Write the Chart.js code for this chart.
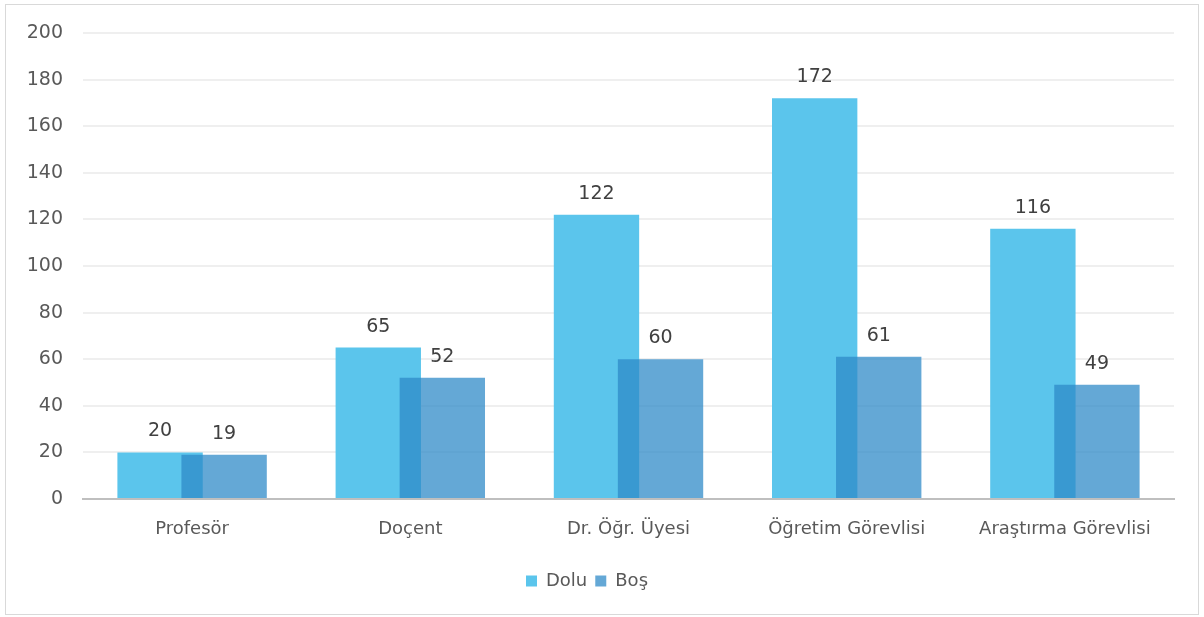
<!DOCTYPE html>
<html>
<head>
<meta charset="utf-8">
<script src="https://cdn.jsdelivr.net/npm/chart.js@4/dist/chart.umd.min.js"></script>
<style>
  html, body { margin: 0; padding: 0; background: #fff; }
  #wrap { position: relative; width: 1204px; height: 617px; }
  #frame { position: absolute; left: 5px; top: 4px; width: 1192px; height: 609px;
           border: 1px solid #d9d9d9; pointer-events: none; }
</style>
</head>
<body>
<div id="wrap">
  <canvas id="kadroChart" width="1204" height="617"></canvas>
  <div id="frame"></div>
</div>
<script>
const categories = ['Profesör', 'Doçent', 'Dr. Öğr. Üyesi', 'Öğretim Görevlisi', 'Araştırma Görevlisi'];
const dolu = [20, 65, 122, 172, 116];
const bos = [19, 52, 60, 61, 49];
const yTicks = [0, 20, 40, 60, 80, 100, 120, 140, 160, 180, 200];

const FONT = '"DejaVu Sans", sans-serif';

// draw the translucent "Boş" bars after "Dolu" so the overlap darkens
const overlapOrder = {
    id: 'overlapOrder',
    beforeDatasetDraw(chart, args) {
        if (args.index === 1 && !chart.$drawingTop) return false;
    },
    afterDatasetsDraw(chart) {
        const meta = chart.getDatasetMeta(1);
        if (!meta.visible) return;
        const area = chart.chartArea;
        chart.ctx.save();
        chart.ctx.beginPath();
        chart.ctx.rect(area.left, area.top - 10, area.right - area.left, area.bottom - area.top + 10);
        chart.ctx.clip();
        chart.$drawingTop = true;
        meta.controller.draw();
        chart.$drawingTop = false;
        chart.ctx.restore();
    }
};

// value labels above each bar
const barLabels = {
    id: 'barLabels',
    afterDatasetsDraw(chart) {
        const ctx = chart.ctx;
        ctx.save();
        ctx.font = '19px ' + FONT;
        ctx.fillStyle = '#404040';
        ctx.textAlign = 'center';
        ctx.textBaseline = 'alphabetic';
        chart.data.datasets.forEach((ds, i) => {
            const meta = chart.getDatasetMeta(i);
            meta.data.forEach((bar, j) => {
                ctx.fillText(String(ds.data[j]), bar.x, bar.y - 16);
            });
        });
        ctx.restore();
    }
};

const ctx = document.getElementById('kadroChart').getContext('2d');
const chart = new Chart(ctx, {
    type: 'bar',
    data: {
        labels: categories,
        datasets: [
            {
                label: 'Dolu',
                data: dolu,
                backgroundColor: '#5bc5ec',
                categoryPercentage: 0.587,
                barPercentage: 1.333,
            },
            {
                label: 'Boş',
                data: bos,
                backgroundColor: 'rgba(46,137,200,0.74)',
                categoryPercentage: 0.587,
                barPercentage: 1.333,
            },
        ],
    },
    options: {
        responsive: false,
        animation: false,
        layout: { padding: { top: 33, right: 30, left: 0, bottom: 17 } },
        plugins: {
            legend: {
                position: 'bottom',
                labels: {
                    font: { family: FONT, size: 18 },
                    color: '#595959',
                    boxWidth: 11,
                    boxHeight: 11,
                    padding: 8,
                },
            },
            tooltip: { enabled: false },
        },
        scales: {
            x: {
                grid: { display: false, drawTicks: false },
                border: { color: '#bfbfbf', width: 2 },
                ticks: {
                    font: { family: FONT, size: 18 },
                    color: '#595959',
                    padding: 20,
                    maxRotation: 0,
                },
                afterFit(scale) { scale.height = 65; },
            },
            y: {
                min: 0,
                max: 200,
                afterBuildTicks(scale) { scale.ticks = yTicks.map(v => ({ value: v })); },
                grid: { color: '#efefef', lineWidth: 2, drawTicks: false },
                border: { display: false },
                ticks: {
                    font: { family: FONT, size: 19 },
                    color: '#595959',
                    padding: 20,
                },
                afterFit(scale) { scale.width = 83; },
            },
        },
    },
    plugins: [overlapOrder, barLabels],
});
</script>
</body>
</html>
